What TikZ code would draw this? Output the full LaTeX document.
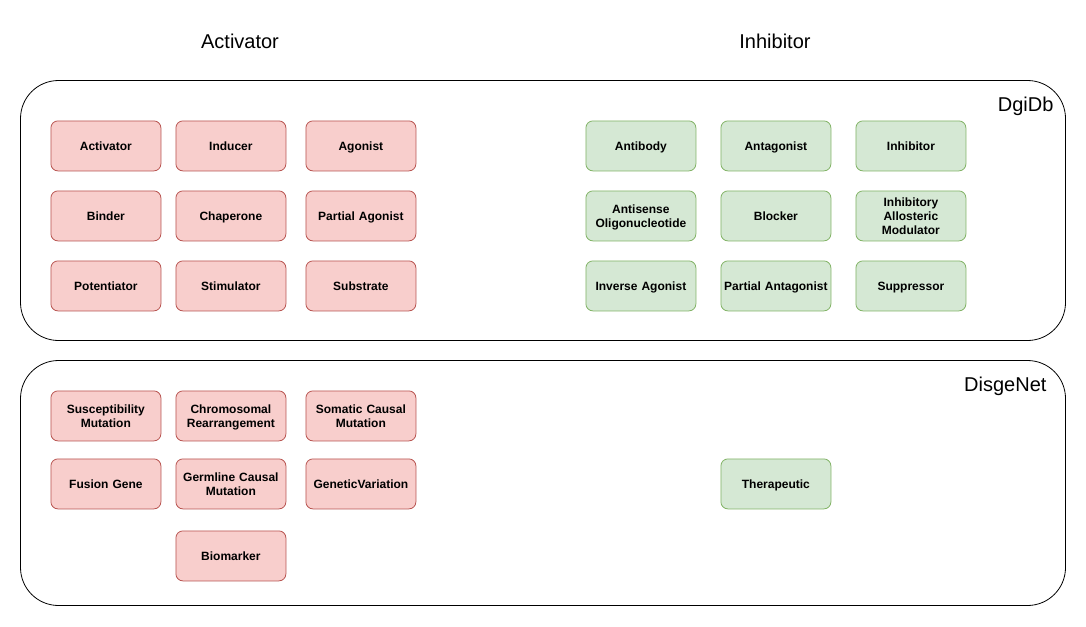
\documentclass[tikz,border=0pt]{standalone}
\usepackage{fontspec}
\setmainfont{Liberation Sans}
\definecolor{rfill}{HTML}{F8CECC}
\definecolor{rdraw}{HTML}{B85450}
\definecolor{gfill}{HTML}{D5E8D4}
\definecolor{gdraw}{HTML}{82B366}
\begin{document}
\begin{tikzpicture}[x=1pt,y=-1pt,
  container/.style={draw=black,line width=0.8pt,rounded corners=38pt},
  cell/.style={rounded corners=7pt,line width=0.8pt,minimum width=110pt,minimum height=50pt,anchor=north west,align=center,font=\fontsize{12}{14}\selectfont\bfseries,inner sep=0pt,text width=108pt,execute at begin node={\rule{0pt}{12pt}},execute at end node={\rule[-3pt]{0pt}{0pt}}},
  act/.style={cell,fill=rfill,draw=rdraw},
  inh/.style={cell,fill=gfill,draw=gdraw},
  head/.style={font=\fontsize{20}{24}\selectfont}]
\useasboundingbox (0,0) rectangle (1086,626);
\fill[white] (0,0) rectangle (1086,626);
\node[head] (hact) at (240,41) {Activator};
\node[head] (hinh) at (775,41) {Inhibitor};
\draw[container] (20.5,80.5) rectangle (1065.5,340.5);
\draw[container] (20.5,360.5) rectangle (1065.5,605.5);
\node[head,anchor=east] (ldgi) at (1057,106) {DgiDb};
\node[head,anchor=east] (ldis) at (1050,386) {DisgeNet};
% DgiDb activators
\node[act] (a1) at (50.5,120.5) {Activator};
\node[act] (a2) at (175.5,120.5) {Inducer};
\node[act] (a3) at (305.5,120.5) {Agonist};
\node[act] (a4) at (50.5,190.5) {Binder};
\node[act] (a5) at (175.5,190.5) {Chaperone};
\node[act] (a6) at (305.5,190.5) {Partial Agonist};
\node[act] (a7) at (50.5,260.5) {Potentiator};
\node[act] (a8) at (175.5,260.5) {Stimulator};
\node[act] (a9) at (305.5,260.5) {Substrate};
% DgiDb inhibitors
\node[inh] (i1) at (585.5,120.5) {Antibody};
\node[inh] (i2) at (720.5,120.5) {Antagonist};
\node[inh] (i3) at (855.5,120.5) {Inhibitor};
\node[inh] (i4) at (585.5,190.5) {Antisense\\Oligonucleotide};
\node[inh] (i5) at (720.5,190.5) {Blocker};
\node[inh] (i6) at (855.5,190.5) {Inhibitory\\Allosteric\\Modulator};
\node[inh] (i7) at (585.5,260.5) {Inverse Agonist};
\node[inh] (i8) at (720.5,260.5) {Partial Antagonist};
\node[inh] (i9) at (855.5,260.5) {Suppressor};
% DisgeNet
\node[act] (d1) at (50.5,390.5) {Susceptibility\\Mutation};
\node[act] (d2) at (175.5,390.5) {Chromosomal\\Rearrangement};
\node[act] (d3) at (305.5,390.5) {Somatic Causal\\Mutation};
\node[act] (d4) at (50.5,458.5) {Fusion Gene};
\node[act] (d5) at (175.5,458.5) {Germline Causal\\Mutation};
\node[act] (d6) at (305.5,458.5) {GeneticVariation};
\node[act] (d7) at (175.5,530.5) {Biomarker};
\node[inh] (t1) at (720.5,458.5) {Therapeutic};
\end{tikzpicture}
\end{document}
